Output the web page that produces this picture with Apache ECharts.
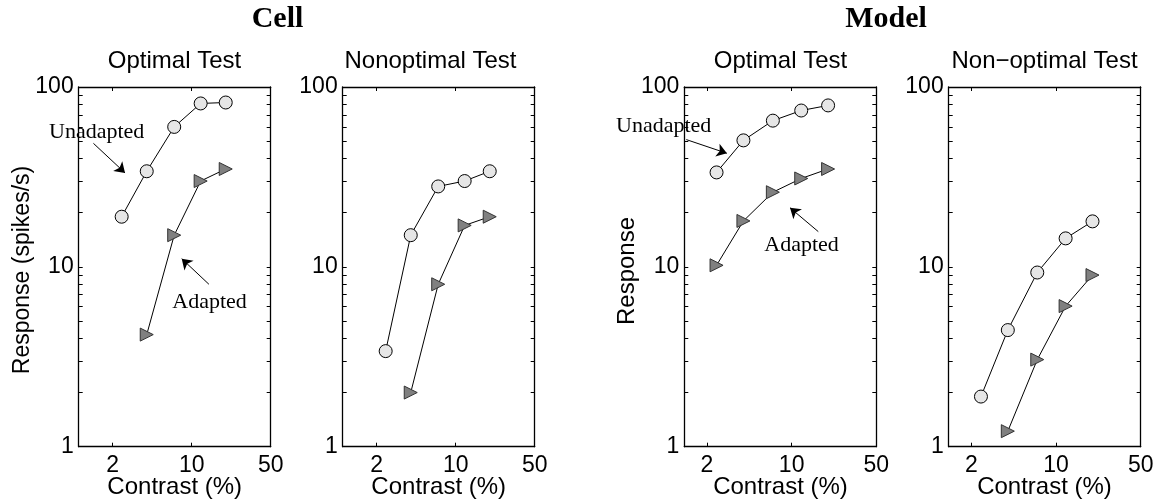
<!DOCTYPE html>
<html>
<head>
<meta charset="utf-8">
<script src="https://cdn.jsdelivr.net/npm/echarts@6/dist/echarts.min.js"></script>
<style>
html, body { margin: 0; padding: 0; background: #fff; }
#main { width: 1159px; height: 501px; }
</style>
</head>
<body>
<div id="main"></div>
<script>
// contrast levels (%)
const contrast = [2.4, 4, 7, 12, 20];
const contrastAdapted = [4, 7, 12, 20];

// responses
const cellOptUnadapted = [19, 34, 60, 81, 82];
const cellOptAdapted = [4.2, 15, 30, 35];
const cellNonUnadapted = [3.4, 15, 28, 30, 34];
const cellNonAdapted = [2.0, 8.0, 17, 19];
const modelOptUnadapted = [33.5, 50.5, 65, 74, 79];
const modelOptAdapted = [10.2, 18, 26, 31, 35];
const modelNonUnadapted = [1.9, 4.45, 9.3, 14.4, 17.9];
const modelNonAdapted = [1.22, 3.05, 6.05, 9.0];

const xTickLabels = [2, 10, 50];
const yTickLabels = [1, 10, 100];
const yTicks = [1, 2, 3, 4, 5, 6, 7, 8, 9, 10, 20, 30, 40, 50, 60, 70, 80, 90, 100];

const sans = 'Liberation Sans';
const serif = 'Liberation Serif';

const panels = [
    { left: 78.7, xmin: 1, unX: contrast, un: cellOptUnadapted, adX: contrastAdapted, ad: cellOptAdapted },
    { left: 342.7, xmin: 1, unX: contrast, un: cellNonUnadapted, adX: contrastAdapted, ad: cellNonAdapted },
    { left: 684.3, xmin: 1.3, unX: contrast, un: modelOptUnadapted, adX: contrast, ad: modelOptAdapted },
    { left: 948.7, xmin: 1.3, unX: contrast, un: modelNonUnadapted, adX: contrastAdapted, ad: modelNonAdapted }
];

// annotation arrows, in data coordinates [panel, from, to]
const arrows = [
    [0, [1.35, 48.6], [2.57, 33.3]],
    [0, [14.2, 8.0], [8.16, 11.1]],
    [2, [1.35, 51], [2.92, 42.8]],
    [2, [16.6, 15.7], [9.7, 21.3]]
];

const zip = (xs, ys) => xs.map((x, i) => [x, ys[i]]);

const line = { show: true, lineStyle: { color: '#000', width: 1.3 } };
const tick = (vals) => ({ show: true, inside: true, length: 4, customValues: vals, lineStyle: { color: '#000', width: 1 } });

const grid = [], xAxis = [], yAxis = [], series = [];

panels.forEach((p, i) => {
    grid.push({ left: p.left, top: 87, width: 192, height: 359.7 });
    xAxis.push({
        gridIndex: i, type: 'log', min: p.xmin, max: 50, position: 'bottom',
        axisLine: line, axisTick: tick([2, 10]), splitLine: { show: false },
        axisLabel: {
            customValues: xTickLabels, margin: 7, color: '#000',
            fontFamily: sans, fontSize: 23, formatter: (v) => String(Math.round(v))
        }
    });
    xAxis.push({
        gridIndex: i, type: 'log', min: p.xmin, max: 50, position: 'top',
        axisLine: line, axisTick: tick([2, 10]), splitLine: { show: false },
        axisLabel: { show: false }
    });
    yAxis.push({
        gridIndex: i, type: 'log', min: 1, max: 100, position: 'left',
        axisLine: line, axisTick: tick(yTicks), splitLine: { show: false },
        axisLabel: {
            customValues: yTickLabels, margin: 5, color: '#000',
            fontFamily: sans, fontSize: 23, formatter: (v) => String(Math.round(v))
        }
    });
    yAxis.push({
        gridIndex: i, type: 'log', min: 1, max: 100, position: 'right',
        axisLine: line, axisTick: tick(yTicks), splitLine: { show: false },
        axisLabel: { show: false }
    });

    const myArrows = arrows.filter((a) => a[0] === i);
    series.push({
        type: 'line', xAxisIndex: 2 * i, yAxisIndex: 2 * i,
        data: zip(p.unX, p.un),
        symbol: 'circle', symbolSize: 13,
        lineStyle: { color: '#000', width: 1 },
        itemStyle: { color: '#e6e6e6', borderColor: '#000', borderWidth: 1 },
        markLine: myArrows.length ? {
            silent: true, symbol: ['none', 'arrow'], symbolSize: 10,
            lineStyle: { color: '#000', width: 1, type: 'solid' },
            label: { show: false },
            emphasis: { disabled: true },
            data: myArrows.map((a) => [{ coord: a[1] }, { coord: a[2] }])
        } : undefined
    });
    series.push({
        type: 'line', xAxisIndex: 2 * i, yAxisIndex: 2 * i,
        data: zip(p.adX, p.ad),
        symbol: 'triangle', symbolSize: 13, symbolRotate: -90,
        lineStyle: { color: '#000', width: 1 },
        itemStyle: { color: '#808080', borderColor: '#333', borderWidth: 1 }
    });
});

const txt = (x, y, text, font, opts) => ({
    type: 'text', x: x, y: y, rotation: (opts && opts.rotation) || 0,
    style: {
        text: text, font: font, fill: '#000',
        textAlign: (opts && opts.align) || 'center', textVerticalAlign: 'middle'
    }
});

const graphic = [
    txt(277.5, 19, 'Cell', 'bold 30px ' + serif),
    txt(886, 19, 'Model', 'bold 30px ' + serif),
    txt(174.5, 61, 'Optimal Test', '24px ' + sans),
    txt(430.5, 61, 'Nonoptimal Test', '24px ' + sans),
    txt(780.5, 61, 'Optimal Test', '24px ' + sans),
    txt(1044.5, 61, 'Non\u2212optimal Test', '24px ' + sans),
    txt(174.7, 487, 'Contrast (%)', '24px ' + sans),
    txt(438.7, 487, 'Contrast (%)', '24px ' + sans),
    txt(780.5, 487, 'Contrast (%)', '24px ' + sans),
    txt(1044.5, 487, 'Contrast (%)', '24px ' + sans),
    txt(23, 270, 'Response (spikes/s)', '23px ' + sans, { rotation: Math.PI / 2 }),
    txt(627, 271, 'Response', '24px ' + sans, { rotation: Math.PI / 2 }),
    txt(49, 132, 'Unadapted', '22px ' + serif, { align: 'left' }),
    txt(172.3, 302, 'Adapted', '22px ' + serif, { align: 'left' }),
    txt(616, 126, 'Unadapted', '22px ' + serif, { align: 'left' }),
    txt(764.3, 245, 'Adapted', '22px ' + serif, { align: 'left' })
];

const chart = echarts.init(document.getElementById('main'));
chart.setOption({
    animation: false,
    backgroundColor: '#fff',
    grid: grid,
    xAxis: xAxis,
    yAxis: yAxis,
    series: series,
    graphic: graphic
});
</script>
</body>
</html>
